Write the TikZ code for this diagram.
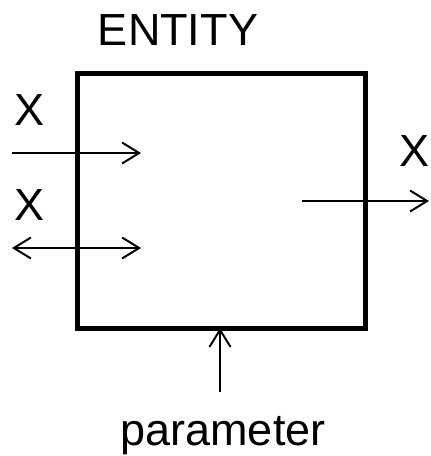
\documentclass[tikz,border=0pt]{standalone}
\usepackage{fontspec}
\setmainfont{Liberation Sans}
\usetikzlibrary{positioning,arrows.meta}
\tikzset{
  entbox/.style = {draw, line width=5pt, minimum width=288pt, minimum height=255pt,
                   inner sep=0pt, outer sep=0pt},
  lbl/.style    = {font=\fontsize{45}{50}\selectfont, inner sep=0pt, anchor=base},
  ar/.style     = {-{Straight Barb[length=17pt, width=21pt, line width=2pt]}, line width=2pt},
  arr/.style    = {{Straight Barb[length=17pt, width=21pt, line width=2pt]}-{Straight Barb[length=17pt, width=21pt, line width=2pt]},
                   line width=2pt},
}
\begin{document}
\begin{tikzpicture}[x=1pt, y=-1pt]
\useasboundingbox (0,0) rectangle (431,456);

% ===== entity block =====
\node[entbox] (ent) at (221,200.5) {};
\node[lbl] (title) at (178,45) {ENTITY};

% ===== ports =====
\node[lbl] (xina) at (30,125) {X};
\node[lbl] (xinb) at (30,220) {X};
\node[lbl] (xout) at (415,166) {X};
\node[lbl] (par) at (223,445) {parameter};

\coordinate (ina0) at (12,153);
\coordinate (ina1) at (141,153);
\coordinate (inb0) at (12,248);
\coordinate (inb1) at (141,248);
\coordinate (out0) at (302,201);
\coordinate (out1) at (429,201);
\coordinate (par0) at (220,392);

% ===== connections =====
\draw[ar] (ina0) -- (ina1);
\draw[arr] (inb0) -- (inb1);
\draw[ar] (out0) -- (out1);
\draw[ar] (par0) -- (par0 |- ent.south);
\end{tikzpicture}
\end{document}
